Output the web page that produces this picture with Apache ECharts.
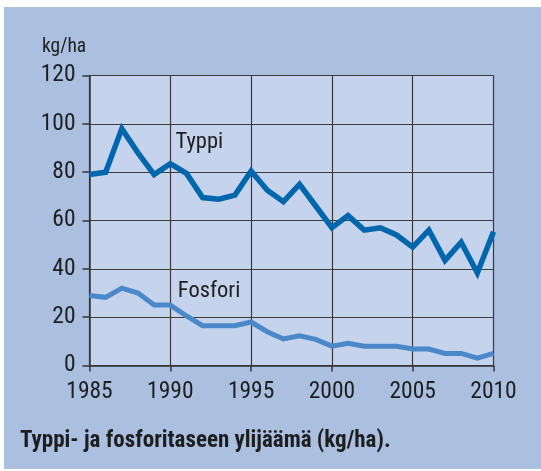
<!DOCTYPE html>
<html>
<head>
<meta charset="utf-8">
<script src="https://cdn.jsdelivr.net/npm/echarts@6/dist/echarts.min.js"></script>
<style>
  html, body { margin: 0; padding: 0; background: #ffffff; }
  #chart { width: 541px; height: 471px; }
</style>
</head>
<body>
<div id="chart"></div>
<script>
// Annual nutrient balance surplus, kg/ha
const years = [1985, 1986, 1987, 1988, 1989, 1990, 1991, 1992, 1993, 1994, 1995, 1996, 1997,
               1998, 1999, 2000, 2001, 2002, 2003, 2004, 2005, 2006, 2007, 2008, 2009, 2010];
const typpi = [79, 80, 98, 88, 79, 83.5, 79.5, 69.5, 68.8, 70.5, 80.5, 72.5, 67.8,
               75, 66, 57, 62, 56, 57, 54, 49, 56, 43.5, 51, 38.3, 55.3];
const fosfori = [29, 28.2, 32, 30, 25, 25, 20.5, 16.5, 16.5, 16.5, 18, 14, 11,
                 12.3, 10.8, 8, 9.2, 8, 8, 8, 6.8, 6.8, 5, 5, 3, 5];
const xTicks = [1985, 1990, 1995, 2000, 2005, 2010];
const yTicks = [0, 20, 40, 60, 80, 100, 120];
const unitLabel = 'kg/ha';
const caption = 'Typpi- ja fosforitaseen ylijäämä (kg/ha).';
const seriesNames = ['Typpi', 'Fosfori'];

const FONT = '"Liberation Sans Narrow", "Roboto Condensed", "Liberation Sans", sans-serif';
const TEXT = '#1e1e1e';
const chart = echarts.init(document.getElementById('chart'), null, { renderer: 'canvas' });

const pairs = arr => years.map((y, i) => [y, arr[i]]);

chart.setOption({
  animation: false,
  backgroundColor: '#ffffff',
  graphic: [
    { type: 'rect', z: -10, shape: { x: 4, y: 7, width: 537, height: 462 },
      style: { fill: '#abbfe0' } },
    { type: 'text', left: 42, top: 37,
      style: { text: unitLabel, font: '19.5px ' + FONT, fill: TEXT } },
    { type: 'text', left: 20, top: 430,
      style: { text: caption, font: 'bold 23px ' + FONT, fill: TEXT } }
  ],
  grid: {
    left: 89.5, right: 47.5, top: 75.5, bottom: 105.5,
    show: true, backgroundColor: '#c6d3ec', borderWidth: 0
  },
  xAxis: {
    type: 'value', min: xTicks[0], max: xTicks[xTicks.length - 1], interval: 5,
    axisLine: { show: true, lineStyle: { color: '#333333', width: 1.5 } },
    axisTick: { show: true, length: 6, lineStyle: { color: '#333333', width: 1.5 } },
    axisLabel: { fontFamily: FONT, fontSize: 23.5, color: TEXT, margin: 15,
                 formatter: v => String(v) },
    splitLine: { show: true, lineStyle: { color: '#3a3a3a', width: 1.2 } }
  },
  yAxis: {
    type: 'value', min: yTicks[0], max: yTicks[yTicks.length - 1], interval: 20,
    axisLine: { show: true, lineStyle: { color: '#333333', width: 1.5 } },
    axisTick: { show: true, length: 7, lineStyle: { color: '#333333', width: 1.5 } },
    axisLabel: { fontFamily: FONT, fontSize: 23.5, color: TEXT, margin: 14 },
    splitLine: { show: true, lineStyle: { color: '#3a3a3a', width: 1.2 } }
  },
  series: [
    {
      name: seriesNames[0], type: 'line', data: pairs(typpi), symbol: 'none',
      lineStyle: { color: '#0066ad', width: 5.5, join: 'miter' },
      markPoint: {
        symbol: 'rect', symbolSize: 1, itemStyle: { color: 'transparent' },
        label: { show: true, formatter: seriesNames[0], fontFamily: FONT, fontSize: 22.5, color: TEXT, position: 'inside' },
        data: [{ coord: [1991.8, 92.5] }]
      }
    },
    {
      name: seriesNames[1], type: 'line', data: pairs(fosfori), symbol: 'none',
      lineStyle: { color: '#4a88c9', width: 5, join: 'miter' },
      markPoint: {
        symbol: 'rect', symbolSize: 1, itemStyle: { color: 'transparent' },
        label: { show: true, formatter: seriesNames[1], fontFamily: FONT, fontSize: 22.5, color: TEXT, position: 'inside' },
        data: [{ coord: [1992.4, 30.5] }]
      }
    }
  ]
});
</script>
</body>
</html>
